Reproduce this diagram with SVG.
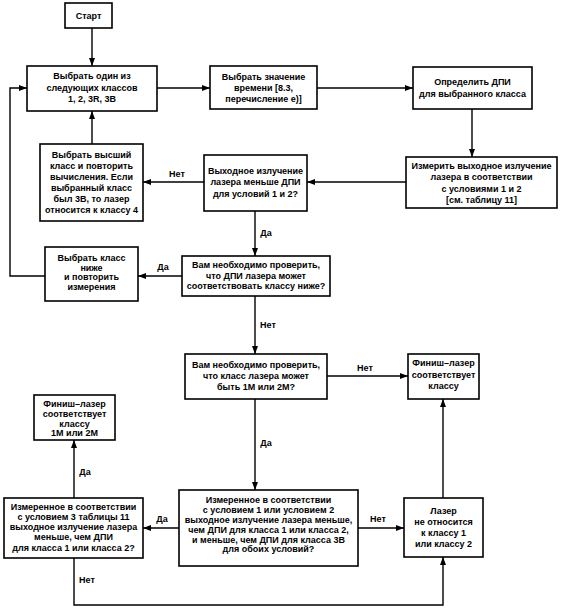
<svg xmlns="http://www.w3.org/2000/svg" width="561" height="612" viewBox="0 0 561 612">
<defs>
<marker id="ah" markerUnits="userSpaceOnUse" markerWidth="9" markerHeight="7" refX="8" refY="3" orient="auto">
<path d="M0,0 L8,3 L0,6 z" fill="#000"/>
</marker>
<style>
.box{fill:#fff;stroke:#000;stroke-width:1.6}
.t{font-family:"Liberation Sans",Arial,sans-serif;font-size:9px;font-weight:bold;fill:#000;text-anchor:middle}
.c{fill:none;stroke:#000;stroke-width:1.4;marker-end:url(#ah)}
.cn{fill:none;stroke:#000;stroke-width:1.4}
.lbl{font-family:"Liberation Sans",Arial,sans-serif;font-size:9px;font-weight:bold;fill:#000;text-anchor:middle}
</style>
</defs>
<rect width="561" height="612" fill="#fff"/>
<g id="connectors">
<path class="c" d="M92,28 V66"/>
<path class="c" d="M157,88 H210"/>
<path class="c" d="M317,88 H413"/>
<path class="c" d="M472,109 V157"/>
<path class="c" d="M406,182 H307"/>
<path class="c" d="M204,182 H143"/>
<path class="c" d="M92,144 V111"/>
<path class="c" d="M255,211 V256"/>
<path class="c" d="M182,276 H138"/>
<path class="c" d="M45,276 H10 V88 H27"/>
<path class="c" d="M255,296 V354"/>
<path class="c" d="M327,376 H408"/>
<path class="c" d="M255,399 V490"/>
<path class="c" d="M179,528 H143"/>
<path class="c" d="M74,498 V440"/>
<path class="c" d="M358,528 H404"/>
<path class="c" d="M443,498 V399"/>
<path class="c" d="M74,558 V605 H443 V557"/>
<text class="lbl" x="177" y="177">Нет</text>
<text class="lbl" x="266" y="236">Да</text>
<text class="lbl" x="163" y="270">Да</text>
<text class="lbl" x="268" y="328">Нет</text>
<text class="lbl" x="365" y="371">Нет</text>
<text class="lbl" x="266" y="446">Да</text>
<text class="lbl" x="85" y="475">Да</text>
<text class="lbl" x="162" y="522">Да</text>
<text class="lbl" x="87" y="583">Нет</text>
<text class="lbl" x="378" y="522">Нет</text>
</g>
<g id="start">
<rect class="box" x="65" y="3" width="47" height="25"/>
<text class="t" x="88.5" y="19">Старт</text>
</g>
<g id="choose-class">
<rect class="box" x="27" y="66" width="130" height="45"/>
<text class="t" x="92" y="79">Выбрать один из</text>
<text class="t" x="92" y="90.5">следующих классов</text>
<text class="t" x="92" y="102">1, 2, 3R, 3B</text>
</g>
<g id="choose-time">
<rect class="box" x="210" y="66" width="107" height="43"/>
<text class="t" x="263.5" y="79.5">Выбрать значение</text>
<text class="t" x="263.5" y="90.5">времени [8.3,</text>
<text class="t" x="263.5" y="101.5">перечисление е)]</text>
</g>
<g id="determine-dpi">
<rect class="box" x="413" y="67" width="119" height="42"/>
<text class="t" x="472.5" y="85">Определить ДПИ</text>
<text class="t" x="472.5" y="96.5">для выбранного класса</text>
</g>
<g id="measure">
<rect class="box" x="406" y="157" width="151" height="51"/>
<text class="t" x="481.5" y="168.5">Измерить выходное излучение</text>
<text class="t" x="481.5" y="180">лазера в соответствии</text>
<text class="t" x="481.5" y="191.5">с условиями 1 и 2</text>
<text class="t" x="481.5" y="203">[см. таблицу 11]</text>
</g>
<g id="output-less">
<rect class="box" x="204" y="155" width="103" height="56"/>
<text class="t" x="255.5" y="173.5">Выходное излучение</text>
<text class="t" x="255.5" y="185">лазера меньше ДПИ</text>
<text class="t" x="255.5" y="196.5">для условий 1 и 2?</text>
</g>
<g id="choose-higher">
<rect class="box" x="40" y="144" width="103" height="77"/>
<text class="t" x="91.5" y="158">Выбрать высший</text>
<text class="t" x="91.5" y="169">класс и повторить</text>
<text class="t" x="91.5" y="180">вычисления. Если</text>
<text class="t" x="91.5" y="191">выбранный класс</text>
<text class="t" x="91.5" y="202">был 3B, то лазер</text>
<text class="t" x="91.5" y="213">относится к классу 4</text>
</g>
<g id="check-lower">
<rect class="box" x="182" y="256" width="148" height="40"/>
<text class="t" x="256" y="268">Вам необходимо проверить,</text>
<text class="t" x="256" y="278.5">что ДПИ лазера может</text>
<text class="t" x="256" y="289">соответствовать классу ниже?</text>
</g>
<g id="choose-lower">
<rect class="box" x="45" y="247" width="93" height="54"/>
<text class="t" x="91.5" y="261">Выбрать класс</text>
<text class="t" x="91.5" y="270.5">ниже</text>
<text class="t" x="91.5" y="280">и повторить</text>
<text class="t" x="91.5" y="289.5">измерения</text>
</g>
<g id="check-1m2m">
<rect class="box" x="185" y="354" width="142" height="45"/>
<text class="t" x="256" y="368">Вам необходимо проверить,</text>
<text class="t" x="256" y="379">что класс лазера может</text>
<text class="t" x="256" y="390">быть 1M или 2M?</text>
</g>
<g id="finish-class">
<rect class="box" x="408" y="354" width="71" height="45"/>
<text class="t" x="443.5" y="366">Финиш–лазер</text>
<text class="t" x="443.5" y="378">соответствует</text>
<text class="t" x="443.5" y="389">классу</text>
</g>
<g id="finish-1m2m">
<rect class="box" x="34" y="395" width="81" height="45"/>
<text class="t" x="74.5" y="407">Финиш–лазер</text>
<text class="t" x="74.5" y="417">соответствует</text>
<text class="t" x="74.5" y="426.5">классу</text>
<text class="t" x="74.5" y="436">1M или 2M</text>
</g>
<g id="measured-cond12">
<rect class="box" x="179" y="490" width="179" height="76"/>
<text class="t" x="268.5" y="503">Измеренное в соответствии</text>
<text class="t" x="268.5" y="513">с условием 1 или условием 2</text>
<text class="t" x="268.5" y="523">выходное излучение лазера меньше,</text>
<text class="t" x="268.5" y="533">чем ДПИ для класса 1 или класса 2,</text>
<text class="t" x="268.5" y="543">и меньше, чем ДПИ для класса 3B</text>
<text class="t" x="268.5" y="552">для обоих условий?</text>
</g>
<g id="measured-cond3">
<rect class="box" x="4" y="498" width="139" height="60"/>
<text class="t" x="73.5" y="510">Измеренное в соответствии</text>
<text class="t" x="73.5" y="520">с условием 3 таблицы 11</text>
<text class="t" x="73.5" y="530">выходное излучение лазера</text>
<text class="t" x="73.5" y="540">меньше, чем ДПИ</text>
<text class="t" x="73.5" y="551">для класса 1 или класса 2?</text>
</g>
<g id="not-class12">
<rect class="box" x="404" y="498" width="79" height="59"/>
<text class="t" x="443.5" y="514">Лазер</text>
<text class="t" x="443.5" y="525">не относится</text>
<text class="t" x="443.5" y="536">к классу 1</text>
<text class="t" x="443.5" y="547">или классу 2</text>
</g>
</svg>
